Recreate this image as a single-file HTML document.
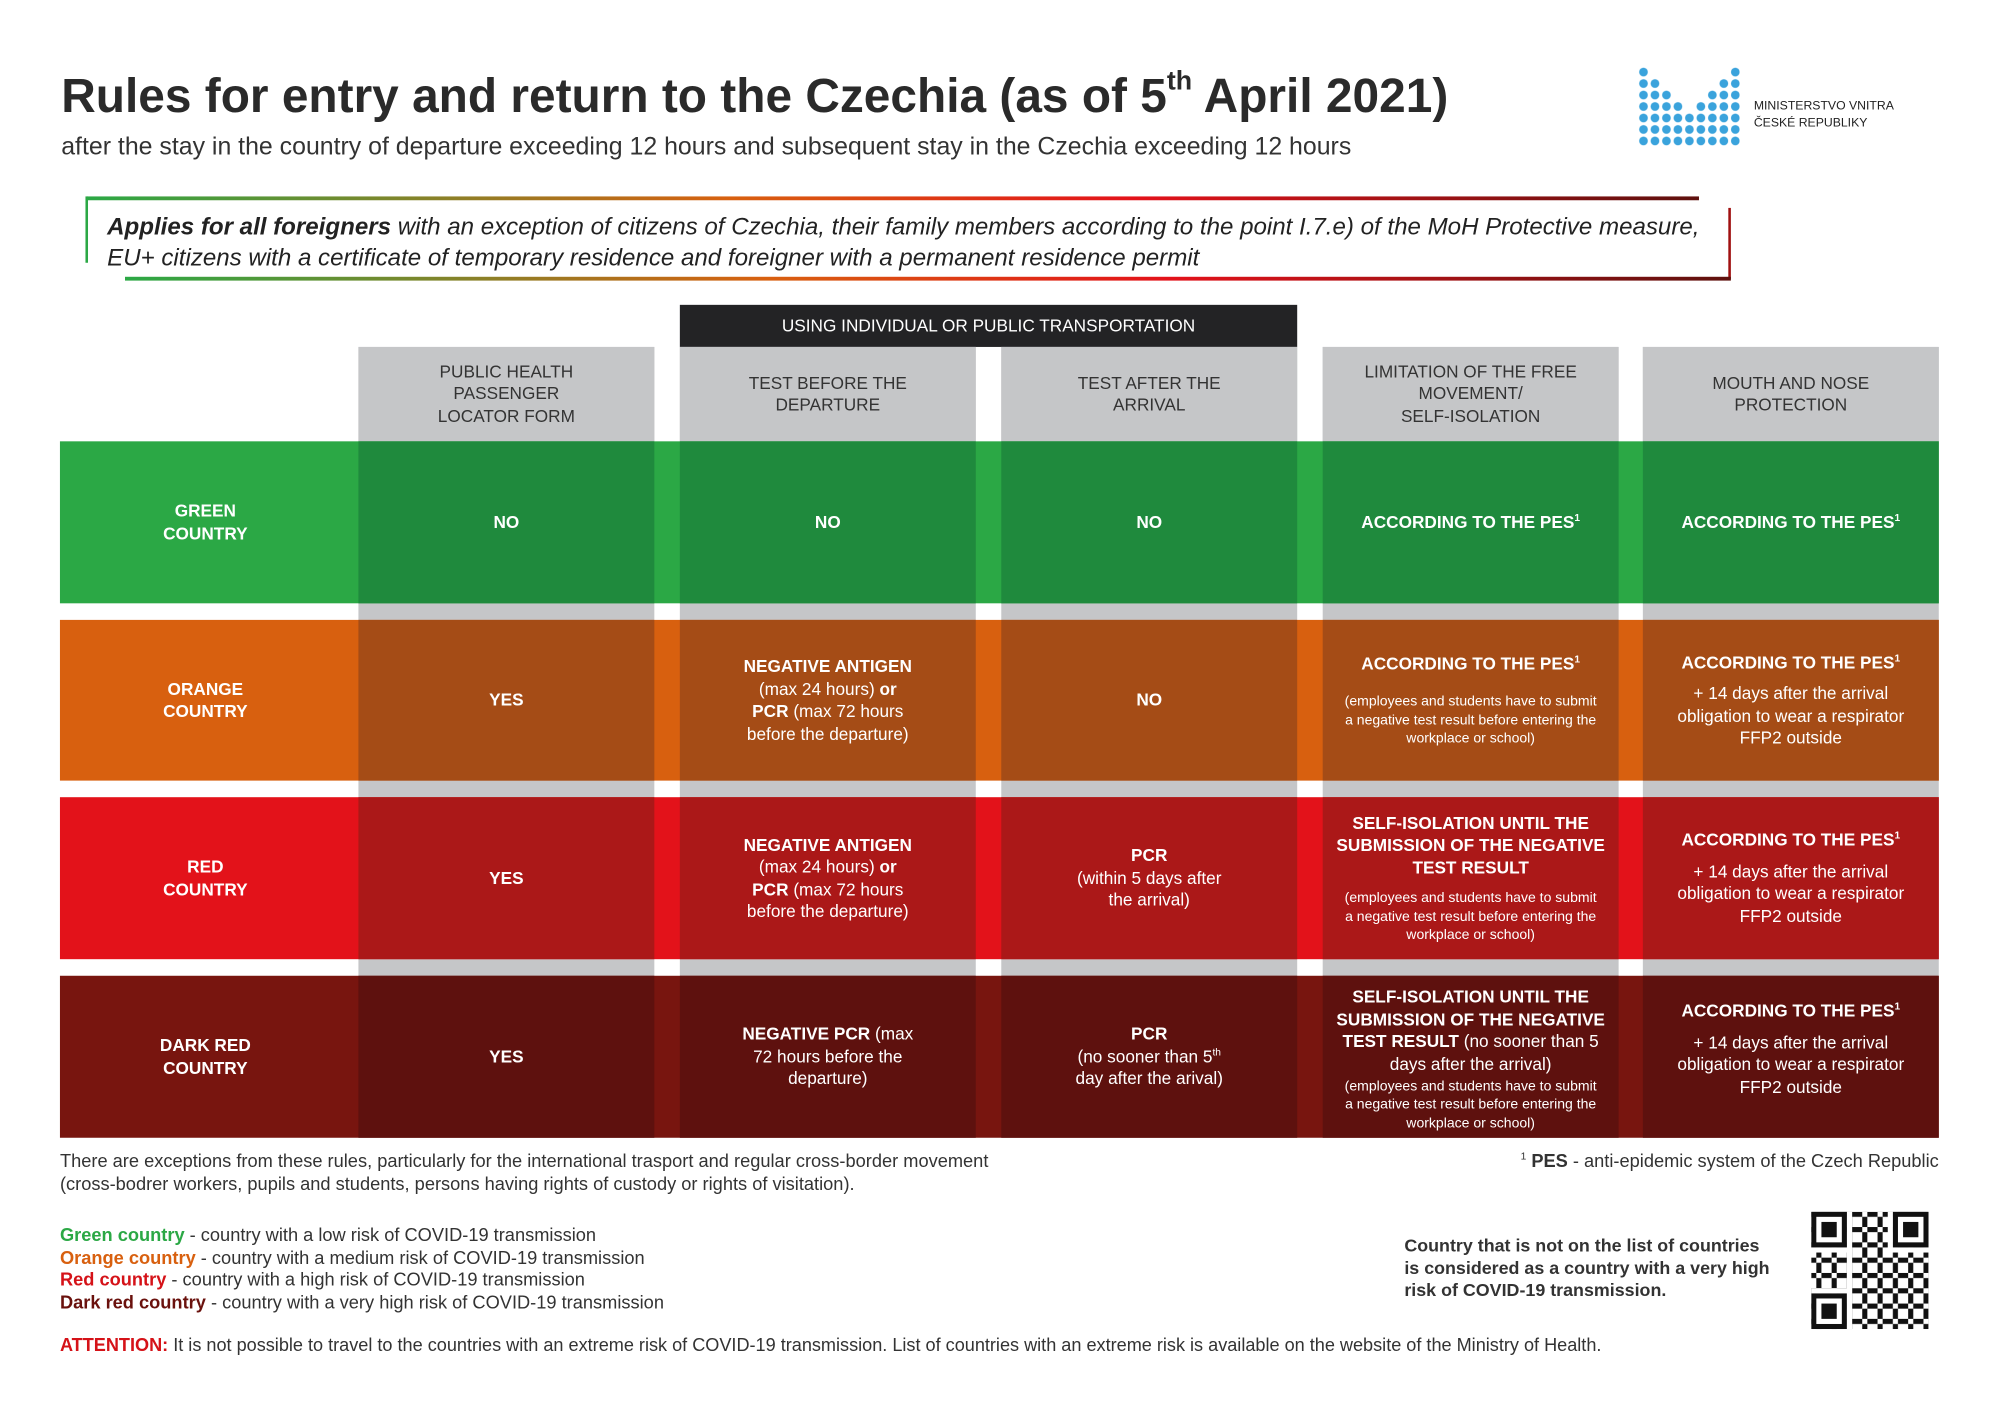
<!DOCTYPE html>
<html><head><meta charset="utf-8">
<style>
*{margin:0;padding:0;box-sizing:border-box}
html,body{width:2000px;height:1414px;overflow:hidden;background:#fff}
#w{position:absolute;left:0;top:0;width:1568px;height:1110px;transform:scale(1.27551);transform-origin:0 0;font-family:"Liberation Sans",sans-serif;color:#2b2b2b}
.a{position:absolute}
.c{position:absolute;display:flex;flex-direction:column;align-items:center;justify-content:center;text-align:center;color:#fff;font-size:13.5px;line-height:17.5px}
.b{font-weight:bold}
.s{font-size:11px;line-height:14.3px;margin-top:8px}
.h{position:absolute;display:flex;align-items:center;justify-content:center;text-align:center;font-size:13.5px;line-height:17.5px;color:#333;background:#c5c6c8}
sup{font-size:8px;line-height:0}
</style></head><body><div id="w">

<div class="a" style="left:48px;top:54px;font-size:37.5px;font-weight:bold;color:#2a2a2a;white-space:nowrap">Rules for entry and return to the Czechia (as of 5<sup style="font-size:21px;position:relative;top:-5px">th</sup> April 2021)</div>
<div class="a" style="left:48px;top:104px;font-size:19.5px;white-space:nowrap;color:#333">after the stay in the country of departure exceeding 12 hours and subsequent stay in the Czechia exceeding 12 hours</div>

<svg class="a" style="left:1284px;top:52px" width="80" height="64">
<defs><pattern id="d" width="9" height="9" patternUnits="userSpaceOnUse"><circle cx="4.5" cy="4.5" r="3.4" fill="#3aa3dc"/></pattern></defs>
<rect x="0" y="0" width="9" height="63" fill="url(#d)"/>
<rect x="9" y="9" width="9" height="54" fill="url(#d)"/>
<rect x="18" y="18" width="9" height="45" fill="url(#d)"/>
<rect x="27" y="27" width="9" height="36" fill="url(#d)"/>
<rect x="36" y="36" width="9" height="27" fill="url(#d)"/>
<rect x="45" y="27" width="9" height="36" fill="url(#d)"/>
<rect x="54" y="18" width="9" height="45" fill="url(#d)"/>
<rect x="63" y="9" width="9" height="54" fill="url(#d)"/>
<rect x="72" y="0" width="8" height="63" fill="url(#d)"/>
</svg>
<div class="a" style="left:1375px;top:77px;font-size:9.6px;line-height:13px;color:#222">MINISTERSTVO VNITRA<br>ČESKÉ REPUBLIKY</div>

<div class="a" style="left:68px;top:154px;width:1264px;height:3px;background:linear-gradient(90deg,#2ba845,#d8600f 40%,#e3121a 65%,#5e110e)"></div>
<div class="a" style="left:67px;top:154px;width:2px;height:52px;background:#2ba845"></div>
<div class="a" style="left:1355px;top:163px;width:2px;height:56px;background:#a01010"></div>
<div class="a" style="left:98px;top:217px;width:1259px;height:3px;background:linear-gradient(90deg,#2ba845,#d8600f 40%,#e3121a 65%,#5e110e)"></div>
<div class="a" style="left:84px;top:167px;font-size:18.9px;font-style:italic;line-height:24px;white-space:nowrap;color:#222"><b>Applies for all foreigners</b> with an exception of citizens of Czechia, their family members according to the point I.7.e) of the MoH Protective measure,<br>EU+ citizens with a certificate of temporary residence and foreigner with a permanent residence permit</div>

<div class="a" style="left:533px;top:239px;width:484px;height:33px;background:#232325;color:#fff;font-size:13.5px;display:flex;align-items:center;justify-content:center">USING INDIVIDUAL OR PUBLIC TRANSPORTATION</div>

<div class="h" style="left:281px;top:272px;width:232px;height:620px"></div>
<div class="h" style="left:533px;top:272px;width:232px;height:620px"></div>
<div class="h" style="left:785px;top:272px;width:232px;height:620px"></div>
<div class="h" style="left:1037px;top:272px;width:232px;height:620px"></div>
<div class="h" style="left:1288px;top:272px;width:232px;height:620px"></div>
<div class="h" style="left:281px;top:272px;width:232px;height:74px">PUBLIC HEALTH<br>PASSENGER<br>LOCATOR FORM</div>
<div class="h" style="left:533px;top:272px;width:232px;height:74px">TEST BEFORE THE<br>DEPARTURE</div>
<div class="h" style="left:785px;top:272px;width:232px;height:74px">TEST AFTER THE<br>ARRIVAL</div>
<div class="h" style="left:1037px;top:272px;width:232px;height:74px">LIMITATION OF THE FREE<br>MOVEMENT/<br>SELF-ISOLATION</div>
<div class="h" style="left:1288px;top:272px;width:232px;height:74px">MOUTH AND NOSE<br>PROTECTION</div>

<!-- GREEN -->
<div class="a" style="left:47px;top:346px;width:1473px;height:127px;background:#2ba845"></div>
<div class="c b" style="left:47px;top:346px;width:228px;height:127px">GREEN<br>COUNTRY</div>
<div class="c b" style="left:281px;top:346px;width:232px;height:127px;background:#1f8a3d">NO</div>
<div class="c b" style="left:533px;top:346px;width:232px;height:127px;background:#1f8a3d">NO</div>
<div class="c b" style="left:785px;top:346px;width:232px;height:127px;background:#1f8a3d">NO</div>
<div class="c b" style="left:1037px;top:346px;width:232px;height:127px;background:#1f8a3d"><div>ACCORDING TO THE PES<sup>1</sup></div></div>
<div class="c b" style="left:1288px;top:346px;width:232px;height:127px;background:#1f8a3d"><div>ACCORDING TO THE PES<sup>1</sup></div></div>

<!-- ORANGE -->
<div class="a" style="left:47px;top:486px;width:1473px;height:126px;background:#d8600f"></div>
<div class="c b" style="left:47px;top:486px;width:228px;height:126px">ORANGE<br>COUNTRY</div>
<div class="c b" style="left:281px;top:486px;width:232px;height:126px;background:#a54c16">YES</div>
<div class="c" style="left:533px;top:486px;width:232px;height:126px;background:#a54c16"><div><b>NEGATIVE ANTIGEN</b><br>(max 24 hours) <b>or</b><br><b>PCR</b> (max 72 hours<br>before the departure)</div></div>
<div class="c b" style="left:785px;top:486px;width:232px;height:126px;background:#a54c16">NO</div>
<div class="c" style="left:1037px;top:486px;width:232px;height:126px;background:#a54c16"><b>ACCORDING TO THE PES<sup>1</sup></b><div class="s" style="margin-top:14px">(employees and students have to submit<br>a negative test result before entering the<br>workplace or school)</div></div>
<div class="c" style="left:1288px;top:486px;width:232px;height:126px;background:#a54c16"><b>ACCORDING TO THE PES<sup>1</sup></b><div style="margin-top:7px">+ 14 days after the arrival<br>obligation to wear a respirator<br>FFP2 outside</div></div>

<!-- RED -->
<div class="a" style="left:47px;top:625px;width:1473px;height:127px;background:#e3121a"></div>
<div class="c b" style="left:47px;top:625px;width:228px;height:127px">RED<br>COUNTRY</div>
<div class="c b" style="left:281px;top:625px;width:232px;height:127px;background:#ab1818">YES</div>
<div class="c" style="left:533px;top:625px;width:232px;height:127px;background:#ab1818"><div><b>NEGATIVE ANTIGEN</b><br>(max 24 hours) <b>or</b><br><b>PCR</b> (max 72 hours<br>before the departure)</div></div>
<div class="c" style="left:785px;top:625px;width:232px;height:127px;background:#ab1818"><div><b>PCR</b><br>(within 5 days after<br>the arrival)</div></div>
<div class="c" style="left:1037px;top:625px;width:232px;height:127px;background:#ab1818"><b>SELF-ISOLATION UNTIL THE<br>SUBMISSION OF THE NEGATIVE<br>TEST RESULT</b><div class="s">(employees and students have to submit<br>a negative test result before entering the<br>workplace or school)</div></div>
<div class="c" style="left:1288px;top:625px;width:232px;height:127px;background:#ab1818"><b>ACCORDING TO THE PES<sup>1</sup></b><div style="margin-top:7px">+ 14 days after the arrival<br>obligation to wear a respirator<br>FFP2 outside</div></div>

<!-- DARK RED -->
<div class="a" style="left:47px;top:765px;width:1473px;height:127px;background:#78150f"></div>
<div class="c b" style="left:47px;top:765px;width:228px;height:127px">DARK RED<br>COUNTRY</div>
<div class="c b" style="left:281px;top:765px;width:232px;height:127px;background:#5e110e">YES</div>
<div class="c" style="left:533px;top:765px;width:232px;height:127px;background:#5e110e"><div><b>NEGATIVE PCR</b> (max<br>72 hours before the<br>departure)</div></div>
<div class="c" style="left:785px;top:765px;width:232px;height:127px;background:#5e110e"><div><b>PCR</b><br>(no sooner than 5<sup>th</sup><br>day after the arival)</div></div>
<div class="c" style="left:1037px;top:765px;width:232px;height:127px;background:#5e110e;padding-top:4px"><div><b>SELF-ISOLATION UNTIL THE<br>SUBMISSION OF THE NEGATIVE<br>TEST RESULT</b> (no sooner than 5<br>days after the arrival)</div><div class="s" style="margin-top:2px">(employees and students have to submit<br>a negative test result before entering the<br>workplace or school)</div></div>
<div class="c" style="left:1288px;top:765px;width:232px;height:127px;background:#5e110e;padding-bottom:12px"><b>ACCORDING TO THE PES<sup>1</sup></b><div style="margin-top:7px">+ 14 days after the arrival<br>obligation to wear a respirator<br>FFP2 outside</div></div>

<div class="a" style="left:47px;top:903px;font-size:14.3px;line-height:17.5px;color:#333;white-space:nowrap">There are exceptions from these rules, particularly for the international trasport and regular cross-border movement<br>(cross-bodrer workers, pupils and students, persons having rights of custody or rights of visitation).</div>
<div class="a" style="left:1120px;top:903px;width:400px;text-align:right;font-size:14.3px;line-height:17.5px;color:#333;white-space:nowrap"><sup>1</sup> <b>PES</b> - anti-epidemic system of the Czech Republic</div>

<div class="a" style="left:47px;top:961px;font-size:14.3px;line-height:17.5px;color:#333;white-space:nowrap">
<b style="color:#2ba845">Green country</b> - country with a low risk of COVID-19 transmission<br>
<b style="color:#d8600f">Orange country</b> - country with a medium risk of COVID-19 transmission<br>
<b style="color:#d51218">Red country</b> - country with a high risk of COVID-19 transmission<br>
<b style="color:#6a110d">Dark red country</b> - country with a very high risk of COVID-19 transmission</div>

<div class="a" style="left:1101px;top:968px;font-size:14px;line-height:17.5px;font-weight:bold;color:#333;white-space:nowrap">Country that is not on the list of countries<br>is considered as a country with a very high<br>risk of COVID-19 transmission.</div>

<svg class="a" style="left:1420px;top:950px" width="92" height="92" viewBox="0 0 23 23">
<defs><pattern id="q" width="3" height="3" patternUnits="userSpaceOnUse"><rect x="0" y="0" width="1" height="1" fill="#111"/><rect x="1" y="1" width="1" height="2" fill="#111"/><rect x="2" y="0" width="1" height="1" fill="#111"/></pattern></defs>
<rect width="23" height="23" fill="#fff"/>
<rect width="23" height="23" fill="url(#q)"/>
<g fill="#111">
<rect x="0" y="0" width="7" height="7"/><rect x="16" y="0" width="7" height="7"/><rect x="0" y="16" width="7" height="7"/>
</g>
<g fill="#fff"><rect x="1" y="1" width="5" height="5"/><rect x="17" y="1" width="5" height="5"/><rect x="1" y="17" width="5" height="5"/><rect x="7" y="0" width="1" height="23"/><rect x="15" y="0" width="1" height="8"/><rect x="0" y="7" width="8" height="1"/><rect x="15" y="7" width="8" height="1"/><rect x="0" y="15" width="8" height="1"/><rect x="7" y="15" width="1" height="8"/></g>
<g fill="#111"><rect x="2" y="2" width="3" height="3"/><rect x="18" y="2" width="3" height="3"/><rect x="2" y="18" width="3" height="3"/></g>
</svg>

<div class="a" style="left:47px;top:1047px;font-size:14.2px;color:#333;white-space:nowrap"><b style="color:#d51218">ATTENTION:</b> It is not possible to travel to the countries with an extreme risk of COVID-19 transmission. List of countries with an extreme risk is available on the website of the Ministry of Health.</div>

</div></body></html>
